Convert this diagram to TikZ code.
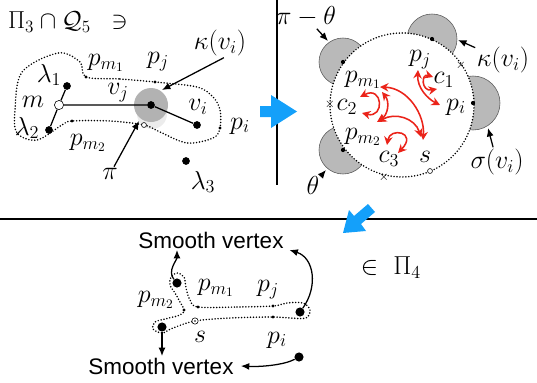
\RequirePackage{fix-cm}
\documentclass[tikz,border=0pt]{standalone}
\usepackage{fontspec}
\setsansfont{Liberation Sans}
\usetikzlibrary{arrows.meta}
\definecolor{skyblue}{RGB}{20,160,250}
\definecolor{arrred}{RGB}{235,35,25}
\begin{document}
\begin{tikzpicture}[x=0.025cm, y=-0.025cm,
  lbl/.style={font=\fontsize{18.5}{22}\selectfont, inner sep=1pt},
  sv/.style={font=\sffamily\fontsize{16}{18}\selectfont, inner sep=1pt},
  dot/.style={circle, fill, inner sep=0pt, minimum size=5.5pt},
  pdot/.style={circle, fill, inner sep=0pt, minimum size=2.4pt},
  opendot/.style={circle, draw, fill=white, inner sep=0pt, minimum size=#1},
  cross/.style={inner sep=0pt, font=\small},
  pointer/.style={-{Latex[length=6pt,width=5pt]}, line width=0.9pt},
  redarr/.style={{Stealth[length=6pt,width=6pt]}-{Stealth[length=6pt,width=6pt]}, arrred, line width=1.1pt},
  boundary/.style={line width=1.2pt, line cap=round, dash pattern=on 0pt off 2.1pt}]
\useasboundingbox (0,0) rectangle (537,382);

% separators and blue arrows
\draw[line width=0.9pt] (277,0) -- (277,185);
\draw[line width=0.9pt] (0,219) -- (537,219);
\fill[skyblue] (260,106) -- (271,106) -- (271,95) -- (297,111.5) -- (271,128) -- (271,117) -- (260,117) -- cycle;
\fill[skyblue] (343,233) -- (366,231) -- (361,224) -- (375,212) -- (368,204) -- (354,216) -- (349,210) -- cycle;

% left panel
\node[lbl, font=\fontsize{17.5}{20}\selectfont] (title) at (68,22) {$\Pi_3\cap\mathcal{Q}_5\;\;\ni$};
\fill[gray!15] (152,114) circle [radius=15];
\fill[gray!60] (151,105) circle [radius=17];
\draw[boundary] plot[smooth cycle, tension=0.55] coordinates {(86,77) (120,79) (155,82) (197,87) (213,97) (220,110) (220,128) (213,138) (187,143) (160,132) (144,125) (110,121) (72,121) (62,125) (37,140) (17,133) (15,110) (22,72) (58,53) (80,62)};
\node[opendot=6.5pt] (m) at (59,105) {};
\node[dot] (lam1) at (67,86) {};
\node[dot] (lam2) at (49,130) {};
\node[dot] (vj) at (151,105) {};
\node[dot] (vi) at (197,125) {};
\node[dot] (lam3) at (186,161) {};
\draw[line width=0.9pt] (lam1) -- (m) -- (vj) -- (vi);
\draw[line width=0.9pt] (m) -- (lam2);
\node[pdot] (pm1d) at (86,77) {};
\node[pdot] (pjd) at (155,82) {};
\node[pdot] (pid) at (220,128) {};
\node[pdot] (pm2d) at (72,121) {};
\node[opendot=3.5pt] (sd) at (144,125) {};
\node[lbl] (kap) at (220,43) {$\kappa(v_i)$};
\node[lbl] (pm1) at (106,63) {$p_{m_1}$};
\node[lbl] (pj) at (158,62) {$p_j$};
\node[lbl] (l1) at (49,75) {$\lambda_1$};
\node[lbl] (ml) at (33,102) {$m$};
\node[lbl] (vjl) at (118,93) {$v_j$};
\node[lbl] (l2) at (27,128) {$\lambda_2$};
\node[lbl] (vil) at (198,107) {$v_i$};
\node[lbl] (pil) at (240,126) {$p_i$};
\node[lbl] (pm2) at (88,143) {$p_{m_2}$};
\node[lbl] (pil2) at (110,174) {$\pi$};
\node[lbl] (l3) at (203,182) {$\lambda_3$};
\coordinate (kaptip) at (162,90);
\coordinate (pitip) at (139,121);
\draw[pointer] (kap.-75) -- (kaptip);
\draw[pointer] (pil2) -- (pitip);

% right panel
\foreach \x/\y/\r in {343/62/24, 432/39/25, 473/103/27, 343/150/24}
  \filldraw[fill=gray!55, draw=gray!70!black, line width=0.4pt] (\x,\y) circle [radius=\r];
\fill[white] (402,105) circle [radius=72];
\draw[boundary] (402,105) circle [radius=72];
\node[pdot, minimum size=3pt] (k1) at (343,62) {};
\node[pdot, minimum size=3pt] (k2) at (432,39) {};
\node[pdot, minimum size=3pt] (k3) at (473,103) {};
\node[pdot, minimum size=3pt] (k4) at (343,150) {};
\node[cross] (x1) at (330,104) {$\times$};
\node[cross] (x2) at (461,65) {$\times$};
\node[cross] (x3) at (384,177) {$\times$};
\node[opendot=3.5pt] (rsd) at (430,171) {};
\node[lbl] (pt) at (306,17) {$\pi-\theta$};
\node[lbl] (kap2) at (503,60) {$\kappa(v_i)$};
\node[lbl] (sig) at (497,162) {$\sigma(v_i)$};
\node[lbl] (th) at (313,185) {$\theta$};
\node[lbl] (rpj) at (420,60) {$p_j$};
\node[lbl] (rc1) at (444,80) {$c_1$};
\node[lbl] (rpi) at (456,107) {$p_i$};
\node[lbl] (rpm1) at (363,80) {$p_{m_1}$};
\node[lbl] (rc2) at (347,107) {$c_2$};
\node[lbl] (rpm2) at (363,137) {$p_{m_2}$};
\node[lbl] (rc3) at (389,159) {$c_3$};
\node[lbl] (rs) at (425,157) {$s$};
\coordinate (pttip) at (328,41);
\coordinate (kaptip2) at (458,40);
\coordinate (sigtip) at (488,128);
\coordinate (thtip) at (326,170);
\draw[pointer] (pt) -- (pttip);
\draw[pointer] (kap2) -- (kaptip2);
\draw[pointer] (sig) -- (sigtip);
\draw[pointer] (th) -- (thtip);
% red moves
\coordinate (t1) at (418,70);  \coordinate (t2) at (440,105);
\coordinate (t3) at (433,77);  \coordinate (t4) at (437,89);
\coordinate (t5) at (360,97);  \coordinate (t6) at (362,113);
\coordinate (t7) at (380,87);  \coordinate (t8) at (423,140);
\coordinate (t9) at (382,92);  \coordinate (t10) at (377,122);
\coordinate (t11) at (378,122); \coordinate (t12) at (421,137);
\coordinate (t13) at (387,145); \coordinate (t14) at (398,153);
\draw[redarr] (t1) .. controls (417,88) and (428,99) .. (t2);
\draw[redarr] (t3) .. controls (421,73) and (421,92) .. (t4);
\draw[redarr] (t5) .. controls (383,85) and (385,119) .. (t6);
\draw[redarr] (t7) .. controls (408,88) and (425,115) .. (t8);
\draw[redarr] (t9) .. controls (390,102) and (388,115) .. (t10);
\draw[redarr] (t11) .. controls (395,112) and (415,118) .. (t12);
\draw[redarr] (t13) .. controls (390,127) and (418,132) .. (t14);

% bottom panel
\draw[boundary] plot[smooth cycle, tension=0.55] coordinates {(198,307) (237,307) (273,306) (287,303) (303,303) (310,310) (306,318) (290,318) (273,317) (230,318) (195,321) (173,328) (162,333) (153,329) (155,322) (165,319) (180,315) (184,310) (180,302) (175,293) (170,285) (171,277) (177,273) (184,277) (186,288) (190,300)};
\node[dot, minimum size=6.5pt] (ba) at (177,283) {};
\node[dot, minimum size=6.5pt] (bb) at (300,312) {};
\node[dot, minimum size=6.5pt] (bc) at (162,327) {};
\node[dot, minimum size=6.5pt] (bd) at (299,357) {};
\node[pdot] (bpm1d) at (198,307) {};
\node[pdot] (bpjd) at (273,306) {};
\node[pdot] (bpid) at (273,317) {};
\node[pdot] (bpm2d) at (184,310) {};
\node[opendot=4.5pt] (bs) at (195,321) {};
\fill (bs) circle [radius=0.8];
\node[lbl] (bpm1) at (216,288) {$p_{m_1}$};
\node[lbl] (bpj) at (268,290) {$p_j$};
\node[lbl] (bpm2) at (156,300) {$p_{m_2}$};
\node[lbl] (bsl) at (200,337) {$s$};
\node[lbl] (bpi) at (277,340) {$p_i$};
\node[sv] (sv1) at (211,240) {Smooth vertex};
\node[sv] (sv2) at (161,366) {Smooth vertex};
\node[lbl] (in4) at (391,268) {$\in~\Pi_4$};
\draw[pointer] (ba) .. controls +(-10,-12) and +(0,10) .. (sv1.south -| ba);
\draw[pointer] (bb) .. controls +(18,-25) and +(25,8) .. ([xshift=3pt]sv1.south east);
\draw[pointer] (bc) -- (bc |- sv2.north);
\draw[pointer] (bd) .. controls +(-15,8) and +(20,1) .. ([xshift=4pt]sv2.east);
\end{tikzpicture}
\end{document}
